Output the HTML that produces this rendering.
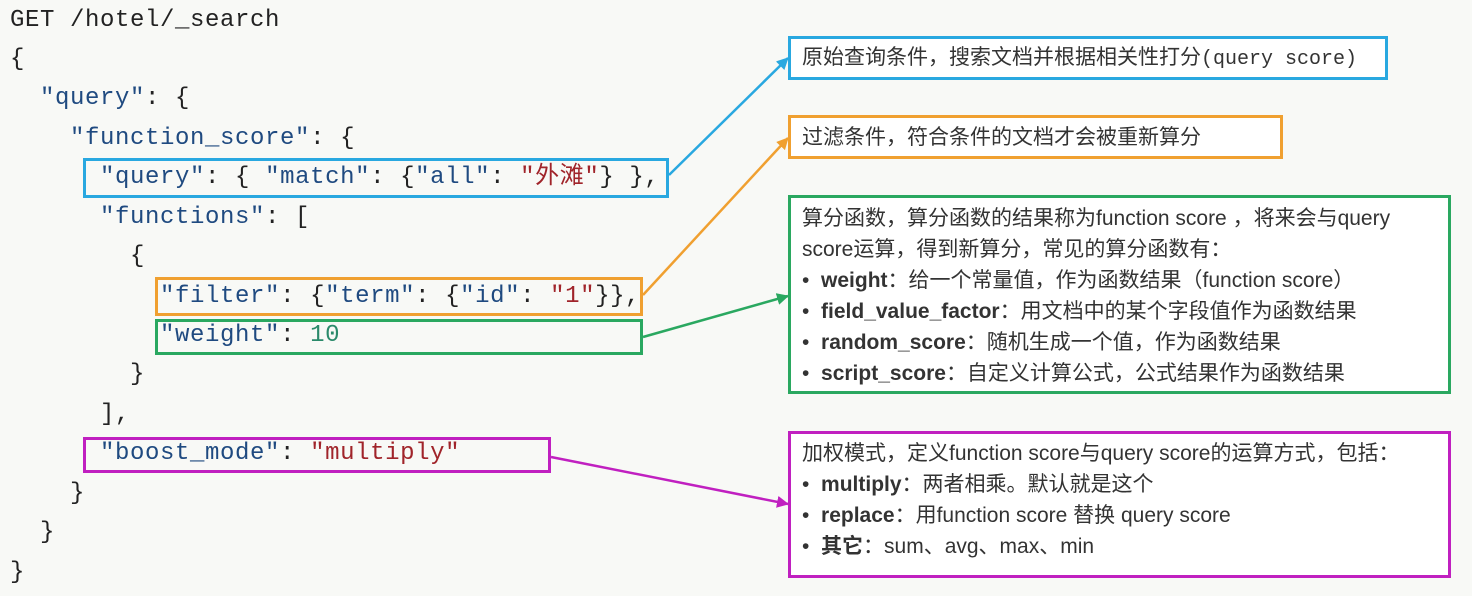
<!DOCTYPE html>
<html><head><meta charset="utf-8"><style>
body{margin:0;width:1472px;height:596px;background:#f8f9f6;position:relative;overflow:hidden}
.c{position:absolute;font-family:"Liberation Mono","Noto Sans CJK SC",monospace;font-size:24px;letter-spacing:0.6px;height:30px;line-height:30px;white-space:pre;color:#222}
.k{color:#1f4a80}.s{color:#a0242a}.n{color:#2a8a6a}
.b{position:absolute;box-sizing:border-box;border:3px solid}
.t{position:absolute;font-family:"Liberation Sans","Noto Sans CJK SC",sans-serif;font-size:21px;color:#333;white-space:pre;line-height:31px}
.t b{font-weight:bold}
</style></head><body>
<div class="b" style="left:83px;top:158px;width:586px;height:40px;border-color:#29a8e0"></div>
<div class="b" style="left:155px;top:277px;width:488px;height:39px;border-color:#f0a030"></div>
<div class="b" style="left:155px;top:319px;width:488px;height:36px;border-color:#2aa860"></div>
<div class="b" style="left:83px;top:437px;width:468px;height:36px;border-color:#c020c0"></div>
<div class="c" style="left:10px;top:6px">GET /hotel/_search</div>
<div class="c" style="left:10px;top:45px">{</div>
<div class="c" style="left:10px;top:84px">  <span class="k">"query"</span>: {</div>
<div class="c" style="left:10px;top:124px">    <span class="k">"function_score"</span>: {</div>
<div class="c" style="left:10px;top:163px">      <span class="k">"query"</span>: { <span class="k">"match"</span>: {<span class="k">"all"</span>: <span class="s">"外滩"</span>} },</div>
<div class="c" style="left:10px;top:203px">      <span class="k">"functions"</span>: [</div>
<div class="c" style="left:10px;top:242px">        {</div>
<div class="c" style="left:10px;top:282px">          <span class="k">"filter"</span>: {<span class="k">"term"</span>: {<span class="k">"id"</span>: <span class="s">"1"</span>}},</div>
<div class="c" style="left:10px;top:321px">          <span class="k">"weight"</span>: <span class="n">10</span></div>
<div class="c" style="left:10px;top:360px">        }</div>
<div class="c" style="left:10px;top:400px">      ],</div>
<div class="c" style="left:10px;top:439px">      <span class="k">"boost_mode"</span>: <span class="s">"multiply"</span></div>
<div class="c" style="left:10px;top:479px">    }</div>
<div class="c" style="left:10px;top:518px">  }</div>
<div class="c" style="left:10px;top:558px">}</div>

<svg style="position:absolute;left:0;top:0" width="1472" height="596">
<defs>
<marker id="a1" markerWidth="12" markerHeight="12" refX="11" refY="6" orient="auto" markerUnits="userSpaceOnUse"><path d="M0,0L12,6L0,12z" fill="#29a8e0"/></marker>
<marker id="a2" markerWidth="12" markerHeight="12" refX="11" refY="6" orient="auto" markerUnits="userSpaceOnUse"><path d="M0,0L12,6L0,12z" fill="#f0a030"/></marker>
<marker id="a3" markerWidth="12" markerHeight="12" refX="11" refY="6" orient="auto" markerUnits="userSpaceOnUse"><path d="M0,0L12,6L0,12z" fill="#2aa860"/></marker>
<marker id="a4" markerWidth="12" markerHeight="12" refX="11" refY="6" orient="auto" markerUnits="userSpaceOnUse"><path d="M0,0L12,6L0,12z" fill="#c020c0"/></marker>
</defs>
<line x1="669" y1="175" x2="788" y2="58" stroke="#29a8e0" stroke-width="2.5" marker-end="url(#a1)"/>
<line x1="643" y1="295" x2="788" y2="138" stroke="#f0a030" stroke-width="2.5" marker-end="url(#a2)"/>
<line x1="643" y1="337" x2="788" y2="296" stroke="#2aa860" stroke-width="2.5" marker-end="url(#a3)"/>
<line x1="551" y1="457" x2="788" y2="504" stroke="#c020c0" stroke-width="2.5" marker-end="url(#a4)"/>
</svg>

<div class="b" style="left:788px;top:36px;width:600px;height:44px;border-color:#29a8e0;background:#fff"></div>
<div class="t" style="left:802px;top:42px">原始查询条件，搜索文档并根据相关性打分<span style="font-family:'Liberation Mono',monospace;font-size:20px">(query score)</span></div>
<div class="b" style="left:788px;top:115px;width:495px;height:44px;border-color:#f0a030;background:#fff"></div>
<div class="t" style="left:802px;top:122px">过滤条件，符合条件的文档才会被重新算分</div>
<div class="b" style="left:788px;top:195px;width:663px;height:199px;border-color:#2aa860;background:#fff"></div>
<div class="t" style="left:802px;top:203px">算分函数，算分函数的结果称为function score ，将来会与query
score运算，得到新算分，常见的算分函数有：
•  <b>weight</b>：给一个常量值，作为函数结果（function score）
•  <b>field_value_factor</b>：用文档中的某个字段值作为函数结果
•  <b>random_score</b>：随机生成一个值，作为函数结果
•  <b>script_score</b>：自定义计算公式，公式结果作为函数结果</div>
<div class="b" style="left:788px;top:431px;width:663px;height:147px;border-color:#c020c0;background:#fff"></div>
<div class="t" style="left:802px;top:438px">加权模式，定义function score与query score的运算方式，包括：
•  <b>multiply</b>：两者相乘。默认就是这个
•  <b>replace</b>：用function score 替换 query score
•  <b>其它</b>：sum、avg、max、min</div>
</body></html>
